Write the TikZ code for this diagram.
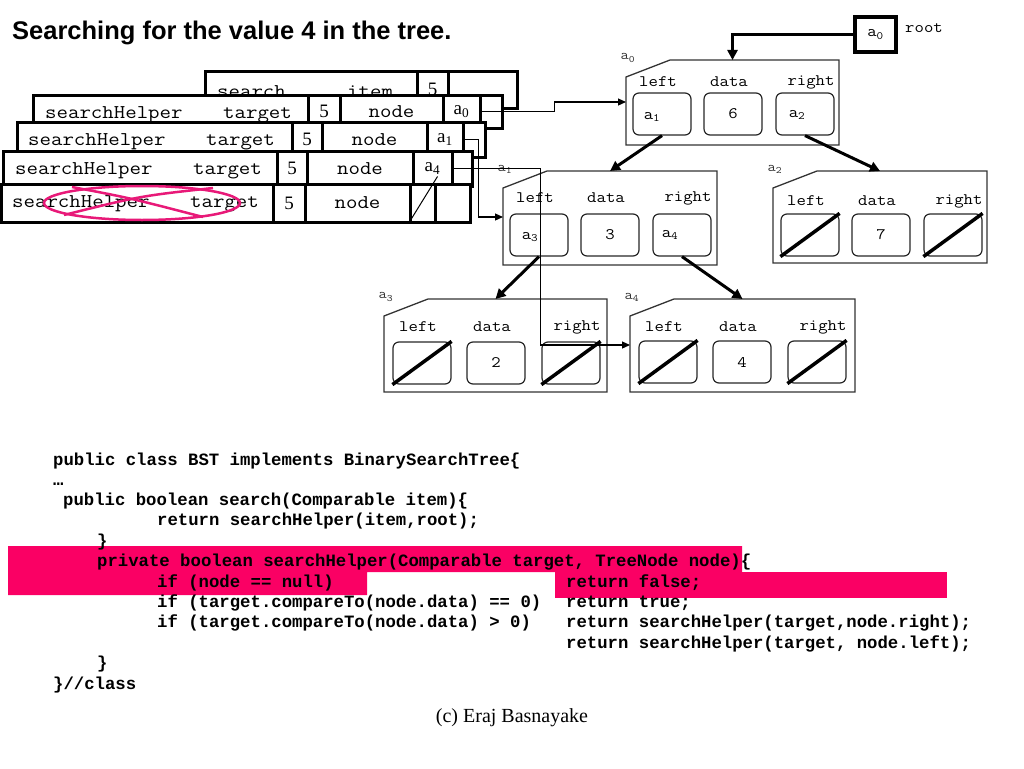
\documentclass[tikz,border=0pt]{standalone}
\usepackage{fontspec}
\setmainfont{Liberation Serif}
\setsansfont{Liberation Sans}
\setmonofont{Liberation Mono}
\newfontfamily\courier{Latin Modern Mono}[FakeStretch=1.14]
\usetikzlibrary{arrows.meta}
\definecolor{hot}{RGB}{250,0,100}
\definecolor{crossc}{RGB}{232,25,120}

\begin{document}
\begin{tikzpicture}[x=1pt, y=-1pt,
    stackframe/.style={draw, line width=3pt, fill=white, inner sep=0pt},
    cell/.style={draw, line width=3pt, fill=white, inner sep=0pt, font=\rmfamily\fontsize{19}{19}\selectfont},
    stacktext/.style={font=\courier\fontsize{19.5}{20}\selectfont, inner sep=0pt},
    nodeshape/.style={draw=black!80, line width=1.3pt},
    membox/.style={draw=black!85, line width=1.2pt, rounded corners=6pt, minimum width=58, minimum height=42, inner sep=0pt, font=\courier\fontsize{16}{16}\selectfont},
    fieldname/.style={font=\courier\fontsize{16}{16}\selectfont, inner sep=0pt},
    addr/.style={font=\courier\fontsize{14}{14}\selectfont, inner sep=0pt, text=black!80},
    nullslash/.style={line width=3.5pt},
    childlink/.style={line width=3pt, -{Triangle[length=10pt,width=10pt]}},
    refline/.style={line width=1.2pt, -{Triangle[length=8pt,width=7pt]}},
    codeline/.style={font=\ttfamily\bfseries\fontsize{17.3}{17}\selectfont, anchor=base west, inner sep=0pt}]
  \useasboundingbox (0,0) rectangle (1024,768);

  \node[anchor=base west, inner sep=0pt, font=\sffamily\bfseries\fontsize{25.5}{25.5}\selectfont] (title) at (12,40) {Searching for the value 4 in the tree.};

  % call stack, oldest frame first
  \node[stackframe, minimum width=312, minimum height=37] (f1) at (361,89.5) {};
  \node[stacktext, anchor=base west] (f1n) at (217,97) {search};
  \node[stacktext, anchor=base west] (f1t) at (347,97) {item};
  \node[cell, minimum width=31, minimum height=37] (f1v) at (432.5,89.5) {5};
  \foreach \i/\L/\T/\R/\B/\xa/\xb/\xc/\xd/\xt/\p in {
      2/33/95/502/128/308/340/443/480/45/a\textsubscript{0},
      3/17/122/485/157/292/322/427/463/28/a\textsubscript{1},
      4/3/151/472/186/277/307/413/452/15/a\textsubscript{4},
      5/1.5/184/470/222/273/305/410/435/12/{}}
  {
    \node[stackframe, minimum width=\R-\L, minimum height=\B-\T] (f\i) at ({(\L+\R)/2},{(\T+\B)/2}) {};
    \node[stacktext, anchor=base west] (f\i n) at (\xt,\T+23) {searchHelper};
    \node[stacktext, anchor=base west] (f\i t) at (\xt+178,\T+23) {target};
    \node[cell, minimum width=\xb-\xa, minimum height=\B-\T] (f\i v) at ({(\xa+\xb)/2},{(\T+\B)/2}) {5};
    \node[cell, stacktext, minimum width=\xc-\xb, minimum height=\B-\T] (f\i d) at ({(\xb+\xc)/2},{(\T+\B)/2}) {node};
    \node[cell, minimum width=\xd-\xc, minimum height=\B-\T] (f\i p) at ({(\xc+\xd)/2},{(\T+\B)/2}) {\p};
  }
  \draw[line width=1pt] (f5p.south west) -- ([shift={(1,-6)}]f5p.north east);
  \draw[crossc, line width=2.5pt] (142,203) ellipse [x radius=98, y radius=17];
  \draw[crossc, line width=2.5pt] (72,187) .. controls (130,198) .. (203,217);
  \draw[crossc, line width=2.5pt] (64,215) .. controls (140,196) .. (213,188);

  % the tree
  \foreach \n/\L/\T/\R/\B/\yl/\yb/\xl/\xd/\xr/\v in {
      0/626/60/839/145/82/114/662/733/805/6,
      1/503/171/717/265/198/235/539/610/682/3,
      2/773/171/987/263/201/235/810/881/953/7,
      3/384/299/607/392/327/363/422/496/571/2,
      4/630/299/855/392/327/362/668/742/817/4}
  {
    \draw[nodeshape] (\L,\T+17) -- (\L+44,\T) -- (\R,\T) -- (\R,\B) -- (\L,\B) -- cycle;
    \coordinate (a\n) at ({(\L+\R)/2},\T);
    \node[addr] (lab\n) at (\L+2,\T-2) {a\textsubscript{\n}};
    \node[fieldname] (left\n) at (\xl-4,\yl) {left};
    \node[fieldname] (data\n) at (\xd-4,\yl) {data};
    \node[fieldname] (right\n) at (\xr+6,\yl) {right};
    \node[membox] (l\n) at (\xl,\yb) {};
    \node[membox] (d\n) at (\xd,\yb) {\v};
    \node[membox] (r\n) at (\xr,\yb) {};
  }
  \node[fieldname] (pl0) at ([shift={(-10,3)}]l0.center) {a\textsubscript{1}};
  \node[fieldname] (pr0) at ([shift={(-8,1)}]r0.center) {a\textsubscript{2}};
  \node[fieldname] (pl1) at ([shift={(-9,2)}]l1.center) {a\textsubscript{3}};
  \node[fieldname] (pr1) at ([shift={(-12,0)}]r1.center) {a\textsubscript{4}};
  \foreach \b in {l2,r2,l3,r3,l4,r4}
    \draw[nullslash] (\b.south west) -- (\b.north east);

  \draw[childlink] (l0.south) -- (a1);
  \draw[childlink] (r0.south) -- (a2);
  \draw[childlink] (l1.south) -- (a3);
  \draw[childlink] (r1.south) -- (a4);

  \node[cell, line width=3.5pt, fieldname, minimum width=41, minimum height=35] (root) at (875.5,34.5) {a\textsubscript{0}};
  \node[fieldname, anchor=west] (rootlab) at (905,28) {root};
  \draw[childlink] (root.west) -| (a0);

  % references from the stack into the tree
  \coordinate (in0) at (626,102);
  \coordinate (in1) at (503,217);
  \coordinate (in4) at (630,345);
  \draw[refline] (f2p.east) -- ++(73,0) |- (in0);
  \draw[refline] (f3p.east) -- ++(14,0) |- (in1);
  \draw[refline] (f4p.east) -- ++(87,0) |- (in4);

  % code
  \fill[hot] (8,546) -- (742,546) -- (742,572) -- (367,572) -- (367,595) -- (8,595) -- cycle;
  \fill[hot] (555,572) -- (947,572) -- (947,598) -- (555,598) -- cycle;
  \node[codeline] (c1) at (53,465) {public class BST implements BinarySearchTree\{};
  \node[codeline] (c2) at (53,485) {…};
  \node[codeline] (c3) at (63,505) {public boolean search(Comparable item)\{};
  \node[codeline] (c4) at (157,525) {return searchHelper(item,root);};
  \node[codeline] (c5) at (97,546) {\}};
  \node[codeline] (c6) at (97,566.5) {private boolean searchHelper(Comparable target, TreeNode node)\{};
  \node[codeline] (c7) at (157,587) {if (node == null)};
  \node[codeline] (r7) at (566,587) {return false;};
  \node[codeline] (c8) at (157,607) {if (target.compareTo(node.data) == 0)};
  \node[codeline] (r8) at (566,607) {return true;};
  \node[codeline] (c9) at (157,627.5) {if (target.compareTo(node.data) > 0)};
  \node[codeline] (r9) at (566,627.5) {return searchHelper(target,node.right);};
  \node[codeline] (r10) at (566,648) {return searchHelper(target, node.left);};
  \node[codeline] (c11) at (97,668.5) {\}};
  \node[codeline] (c12) at (53,689) {\}//class};

  \node[font=\rmfamily\fontsize{20}{20}\selectfont] (credit) at (512,718) {(c) Eraj Basnayake};
\end{tikzpicture}
\end{document}
